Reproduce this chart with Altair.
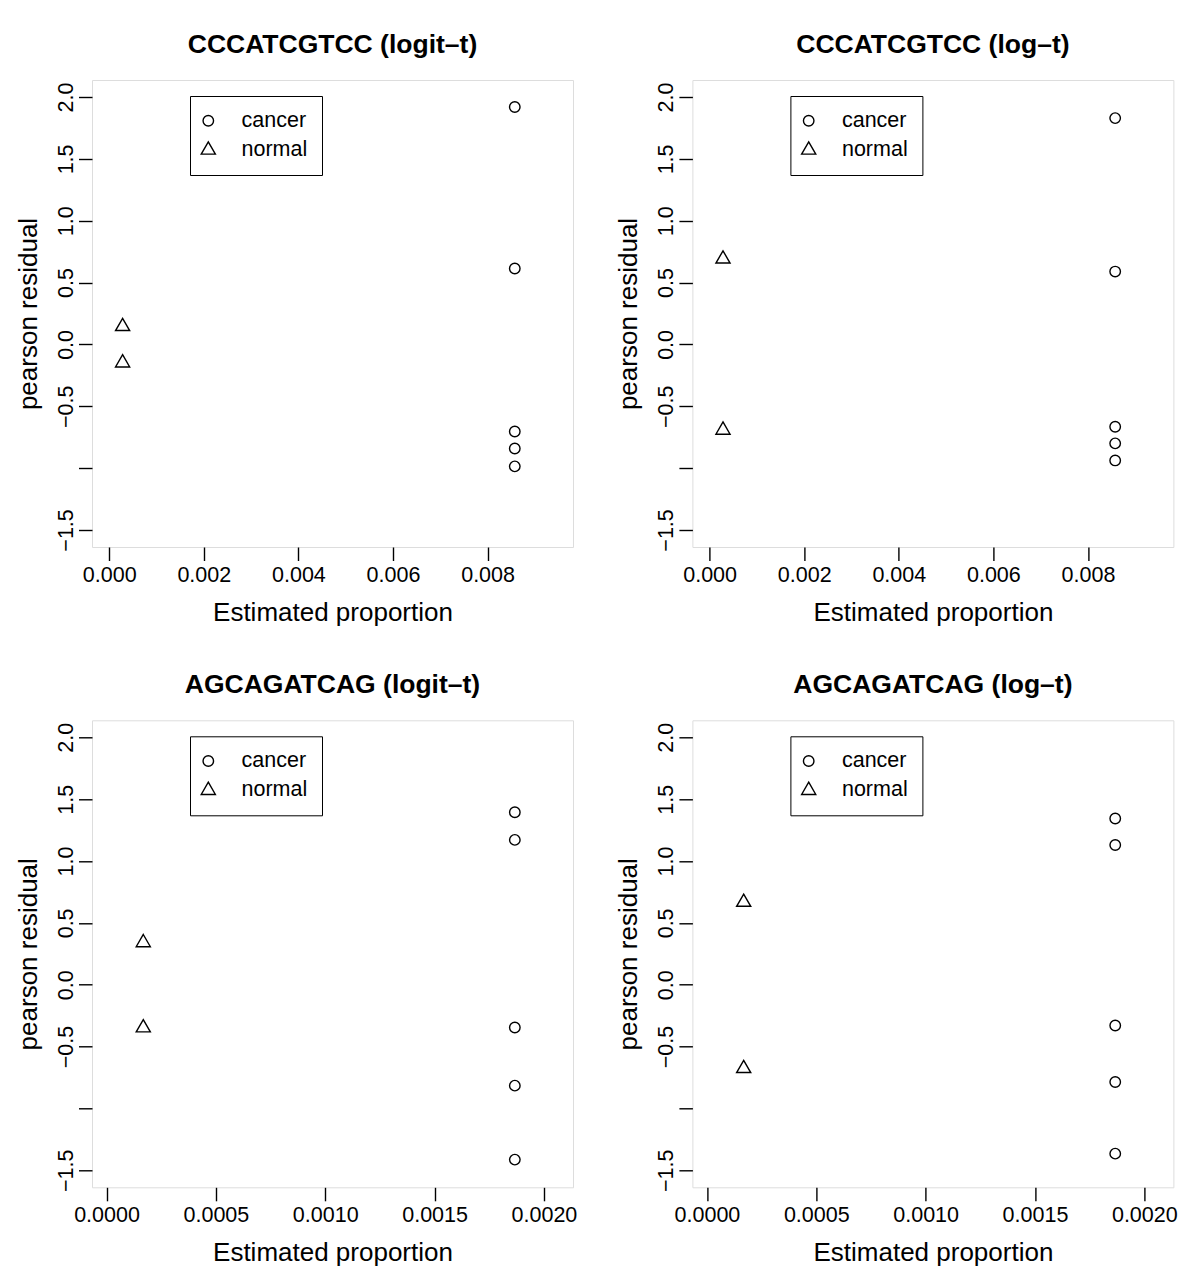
import altair as alt
import pandas as pd

# ---------------- data ----------------
titles = ["CCCATCGTCC (logit–t)", "CCCATCGTCC (log–t)",
          "AGCAGATCAG (logit–t)", "AGCAGATCAG (log–t)"]
groups = ["cancer", "normal"]

# estimated proportion (x) per panel
x_cancer = [0.008575, 0.008575, 0.001867, 0.001867]
x_normal = [0.000283, 0.000283, 0.000168, 0.000168]

# pearson residuals (y)
y_cancer = [
    [1.92, 0.614, -0.704, -0.842, -0.986],
    [1.83, 0.589, -0.666, -0.800, -0.938],
    [1.395, 1.171, -0.346, -0.816, -1.414],
    [1.344, 1.130, -0.330, -0.787, -1.366],
]
y_normal = [
    [0.145, -0.149],
    [0.691, -0.693],
    [0.340, -0.348],
    [0.667, -0.677],
]

x_ticks_top = [0.0, 0.002, 0.004, 0.006, 0.008]
x_ticks_bottom = [0.0, 0.0005, 0.0010, 0.0015, 0.0020]
y_ticks = [-1.5, -1.0, -0.5, 0.0, 0.5, 1.0, 1.5, 2.0]

x_domain_top = [-0.000364, 0.009806]
x_domain_bottom = [-0.0000665, 0.002133]
y_domain = [-1.638, 2.138]

# ---------------- styling ----------------
FONT = "Liberation Sans"
W, H = 481, 467
CIRCLE = "M1,0A1,1,0,1,1,-1,0A1,1,0,1,1,1,0Z"
TRIANGLE = "M0,-1.555L1.347,0.778L-1.347,0.778Z"
PT_SIZE = 110
LEG_PAD = 14


def panel(i):
    rows = []
    for v in y_cancer[i]:
        rows.append({"x": x_cancer[i], "y": v, "group": "cancer"})
    for v in y_normal[i]:
        rows.append({"x": x_normal[i], "y": v, "group": "normal"})
    df = pd.DataFrame(rows)
    top = i < 2
    xt = x_ticks_top if top else x_ticks_bottom
    xd = x_domain_top if top else x_domain_bottom
    xf = ".3f" if top else ".4f"

    x_axis = alt.Axis(
        values=xt, format=xf, title="Estimated proportion",
        domain=False, grid=False, tickSize=13.5, tickWidth=1.4, tickColor="black",
        labelFont=FONT, labelFontSize=21.5, labelColor="black", labelPadding=4,
        labelFlush=False, labelOverlap=False, labelBaseline="top",
        titleFont=FONT, titleFontSize=26, titleFontWeight="normal", titleColor="black",
        titleX=W / 2, titleY=73, titleAlign="center", titleBaseline="alphabetic",
    )
    y_axis = alt.Axis(
        values=y_ticks, title="pearson residual",
        labelExpr="datum.value == -1 ? '' : format(datum.value, '.1f')",
        domain=False, grid=False, tickSize=13.5, tickWidth=1.4, tickColor="black",
        labelFont=FONT, labelFontSize=21.5, labelColor="black", labelPadding=6,
        labelAngle=270, labelAlign="center", labelBaseline="alphabetic",
        labelFlush=False, labelOverlap=False,
        titleFont=FONT, titleFontSize=26, titleFontWeight="normal", titleColor="black",
        titleAngle=270, titleX=-56, titleY=H / 2, titleAlign="center",
        titleBaseline="alphabetic",
    )
    legend = alt.Legend(
        title=None, orient="none", legendX=98, legendY=16, direction="vertical",
        symbolSize=PT_SIZE, symbolStrokeColor="black", symbolStrokeWidth=1.4,
        symbolFillColor="transparent", symbolOffset=18.3 - LEG_PAD - 10.75,
        labelFont=FONT, labelFontSize=21.5, labelColor="black",
        labelOffset=22.5,
        padding=LEG_PAD, rowPadding=6.3, strokeColor="black",
    )
    return (
        alt.Chart(df)
        .mark_point(filled=False, color="black", strokeWidth=1.4, size=PT_SIZE, opacity=1)
        .encode(
            x=alt.X("x:Q", scale=alt.Scale(domain=xd, nice=False, zero=False), axis=x_axis),
            y=alt.Y("y:Q", scale=alt.Scale(domain=y_domain, nice=False, zero=False), axis=y_axis),
            shape=alt.Shape("group:N", scale=alt.Scale(domain=groups, range=[CIRCLE, TRIANGLE]),
                            legend=legend),
        )
        .properties(
            width=W, height=H,
            title=alt.TitleParams(
                text=titles[i], font=FONT, fontSize=26.5, fontWeight="bold", color="black",
                anchor="middle", frame="group", baseline="alphabetic", offset=0.4,
            ),
        )
    )


chart = (
    alt.concat(panel(0), panel(1), panel(2), panel(3), columns=2,
               spacing={"row": 173.3, "column": 119.4}, bounds="flush")
    .resolve_scale(x="independent", y="independent", shape="independent")
    .resolve_legend(shape="independent")
    .properties(padding={"left": 6, "top": 23, "right": 10, "bottom": 10})
    .configure_view(stroke="black", strokeWidth=1.7)
    .configure_legend(strokeWidth=1.4)
    .configure(background="white")
)

chart.save("out.html", embed_options={"renderer": "svg", "actions": False})
